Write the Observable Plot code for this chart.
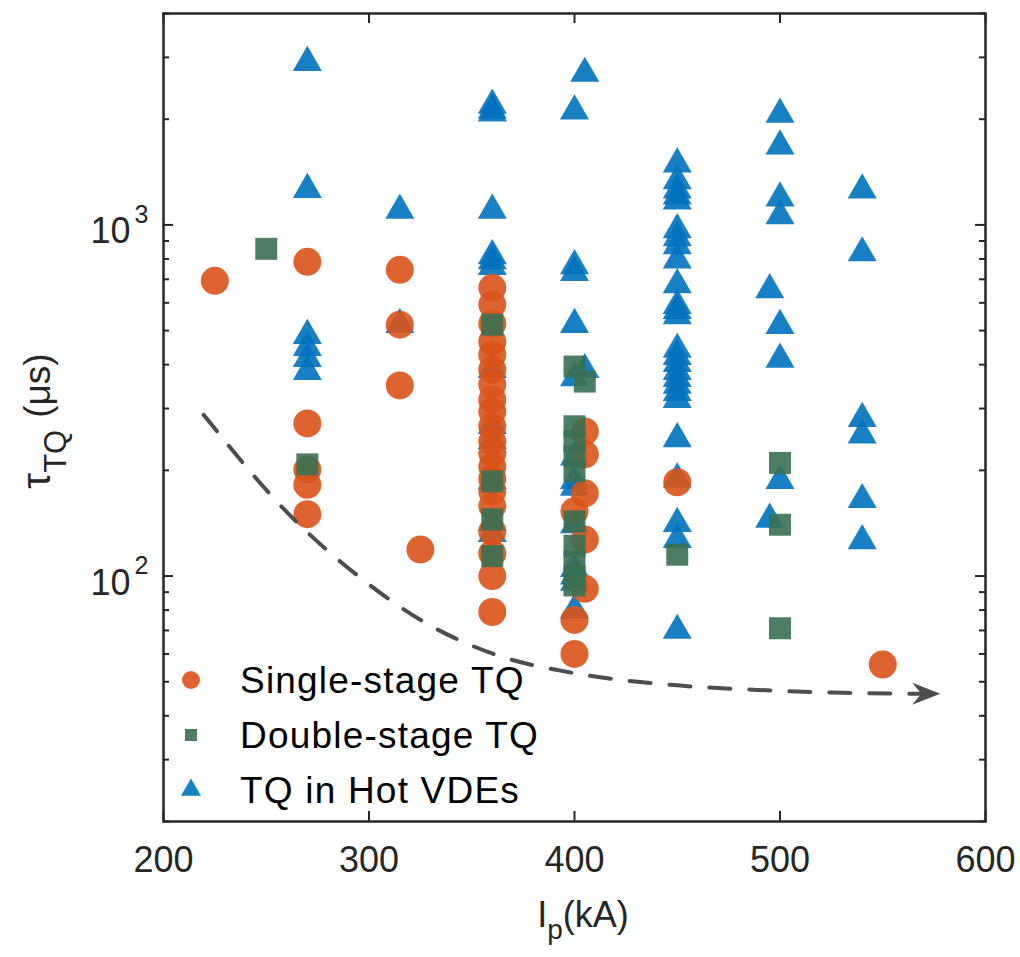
<!DOCTYPE html>
<html>
<head>
<meta charset="utf-8">
<script src="https://cdn.jsdelivr.net/npm/d3@7"></script>
<script src="https://cdn.jsdelivr.net/npm/@observablehq/plot@0.6"></script>
<style>
html, body { margin: 0; padding: 0; background: #fff; overflow: hidden; }
</style>
</head>
<body>
<div id="chart"></div>
<script>
// ---- data: [Ip (kA), tau_TQ (us)] ----
const singleStage = [
  [225, 693],
  [270, 785], [270, 272], [270, 201], [270, 182], [270, 150],
  [315, 745], [315, 520], [315, 349],
  [325, 119],
  [360, 662], [360, 593], [360, 523], [360, 465], [360, 427], [360, 387], [360, 351],
  [360, 318], [360, 294], [360, 267], [360, 242], [360, 224], [360, 205], [360, 189],
  [360, 174], [360, 158], [360, 134], [360, 116], [360, 100], [360, 79],
  [400, 153], [400, 75], [400, 60],
  [405, 258], [405, 222], [405, 172], [405, 127], [405, 92],
  [450, 185],
  [550, 56]
];
const doubleStage = [
  [250, 855],
  [270, 208],
  [360, 520], [360, 186], [360, 145], [360, 114],
  [400, 395], [400, 267], [400, 242], [400, 219], [400, 199], [400, 143], [400, 122],
  [400, 110], [400, 100], [400, 94],
  [405, 358],
  [450, 115],
  [500, 210], [500, 140], [500, 71]
];
const hotVDE = [
  [270, 2900], [270, 1260], [270, 484], [270, 447], [270, 416], [270, 382],
  [315, 1100], [315, 520],
  [360, 2190], [360, 2120], [360, 2080], [360, 1100], [360, 817], [360, 790], [360, 761],
  [360, 387], [360, 268], [360, 243], [360, 187], [360, 142], [360, 132],
  [400, 2110], [400, 765], [400, 731], [400, 520], [400, 367], [400, 218], [400, 187],
  [400, 179], [400, 140], [400, 105], [400, 100], [400, 96], [400, 80],
  [405, 2700], [405, 387],
  [450, 1490], [450, 1334], [450, 1257], [450, 1208], [450, 1169], [450, 968], [450, 919],
  [450, 872], [450, 794], [450, 675], [450, 589], [450, 570], [450, 551], [450, 442],
  [450, 422], [450, 403], [450, 382], [450, 365], [450, 349], [450, 333], [450, 318],
  [450, 246], [450, 189], [450, 141], [450, 127], [450, 70],
  [495, 653], [495, 145],
  [500, 2065], [500, 1676], [500, 1193], [500, 1061], [500, 517], [500, 414], [500, 187],
  [540, 1256], [540, 832], [540, 281], [540, 252], [540, 165], [540, 126]
];
// dashed trend guide (ends at the arrow tip)
const trendCurve = [
  [219.5, 288], [263, 146], [296, 98.7], [328.5, 73], [360.6, 60], [401.5, 52.7],
  [446.7, 49], [489, 47.4], [531, 46.5], [578, 46.2]
];
const xTicks = [200, 300, 400, 500, 600];
const yMajorTicks = [100, 1000];
const yMinorTicks = [20, 30, 40, 50, 60, 70, 80, 90, 200, 300, 400, 500, 600, 700, 800, 900, 2000, 3000, 4000];
const legendLabels = ["Single-stage TQ", "Double-stage TQ", "TQ in Hot VDEs"];

// ---- styles ----
const W = 1020, H = 957;
const mL = 163, mR = 35, mT = 13, mB = 136;
const plotW = W - mL - mR, plotH = H - mT - mB;
const ORANGE = "#D95319", GREEN = "#3A7052", BLUE = "#0072BD", AXIS = "#262626", DASH = "#4D4D4D";
const FONT = "'Liberation Sans', Arial, Helvetica, sans-serif";

const toObj = arr => arr.map(([ip, tau]) => ({ip, tau}));
const arrowHead = {
  draw(ctx) {
    ctx.moveTo(0, 0);
    ctx.lineTo(-28, -11);
    ctx.lineTo(-19, 0);
    ctx.lineTo(-28, 11);
    ctx.closePath();
  }
};
const trend = toObj(trendCurve);

const chart = Plot.plot({
  width: W, height: H,
  marginLeft: mL, marginRight: mR, marginTop: mT, marginBottom: mB,
  style: {fontFamily: FONT, background: "#fff"},
  x: {type: "linear", domain: [200, 600], axis: null},
  y: {type: "log", domain: [20, 4000], axis: null},
  marks: [
    // inward ticks on all four sides
    Plot.tickX(xTicks, {x: d => d, insetTop: plotH - 10, stroke: AXIS, strokeWidth: 2}),
    Plot.tickX(xTicks, {x: d => d, insetBottom: plotH - 10, stroke: AXIS, strokeWidth: 2}),
    Plot.tickY(yMajorTicks, {y: d => d, insetRight: plotW - 10, stroke: AXIS, strokeWidth: 2}),
    Plot.tickY(yMajorTicks, {y: d => d, insetLeft: plotW - 10, stroke: AXIS, strokeWidth: 2}),
    Plot.tickY(yMinorTicks, {y: d => d, insetRight: plotW - 6, stroke: AXIS, strokeWidth: 2}),
    Plot.tickY(yMinorTicks, {y: d => d, insetLeft: plotW - 6, stroke: AXIS, strokeWidth: 2}),
    // data
    Plot.dot(toObj(hotVDE), {x: "ip", y: "tau", symbol: "triangle", r: 10.8, fill: BLUE, fillOpacity: 0.9}),
    Plot.dot(toObj(singleStage), {x: "ip", y: "tau", symbol: "circle", r: 14, fill: ORANGE, fillOpacity: 0.9}),
    Plot.dot(toObj(doubleStage), {x: "ip", y: "tau", symbol: "square", r: 12.4, fill: GREEN, fillOpacity: 0.9}),
    // trend arrow
    Plot.line(trend, {x: "ip", y: "tau", curve: "monotone-x", stroke: DASH, strokeWidth: 4, strokeDasharray: "21,19"}),
    Plot.dot([trend[trend.length - 1]], {x: "ip", y: "tau", symbol: arrowHead, r: 1, fill: DASH}),
    Plot.frame({stroke: AXIS, strokeWidth: 2.5}),
    // tick labels
    Plot.text(xTicks, {x: d => d, frameAnchor: "bottom", dy: 39, lineAnchor: "middle", text: d => String(d), fontSize: 36, fill: AXIS}),
    Plot.text(yMajorTicks, {y: d => d, frameAnchor: "left", dx: -33, dy: 7, lineAnchor: "middle", textAnchor: "end", text: () => "10", fontSize: 36, fill: AXIS}),
    Plot.text(yMajorTicks, {y: d => d, frameAnchor: "left", dx: -15, dy: -10, lineAnchor: "middle", textAnchor: "end", text: d => String(Math.round(Math.log10(d))), fontSize: 25, fill: AXIS})
  ]
});
document.getElementById("chart").appendChild(chart);

// ---- axis titles and legend ----
const svg = d3.select(chart);

const xl = svg.append("text")
  .attr("x", 583).attr("y", 927)
  .attr("text-anchor", "middle")
  .attr("font-family", FONT).attr("font-size", 36).attr("fill", AXIS);
xl.append("tspan").text("I");
xl.append("tspan").attr("dy", 12).attr("font-size", 28).text("p");
xl.append("tspan").attr("dy", -12).text("(kA)");

const yl = svg.append("text")
  .attr("transform", "translate(50,421) rotate(-90)")
  .attr("text-anchor", "middle")
  .attr("font-family", FONT).attr("font-size", 37).attr("fill", AXIS);
yl.append("tspan").attr("font-size", 40).text("τ");
yl.append("tspan").attr("dy", 16).attr("font-size", 31).text("TQ");
yl.append("tspan").attr("dy", -16).attr("dx", 12).text("(μs)");

const legendSymbols = [
  {type: d3.symbolCircle, size: Math.PI * 81, color: ORANGE},
  {type: d3.symbolSquare, size: 144, color: GREEN},
  {type: d3.symbolTriangle, size: 173, color: BLUE}
];
const lg = svg.append("g").attr("font-family", FONT).attr("text-anchor", "start");
legendLabels.forEach((label, i) => {
  const cy = 680 + 55 * i;
  const s = legendSymbols[i];
  lg.append("path")
    .attr("transform", `translate(191,${cy})`)
    .attr("d", d3.symbol(s.type, s.size)())
    .attr("fill", s.color).attr("fill-opacity", 0.9);
  lg.append("text")
    .attr("x", 240).attr("y", cy + 13)
    .attr("text-anchor", "start")
    .attr("font-size", 37).attr("letter-spacing", 1.2)
    .attr("fill", "#000")
    .text(label);
});
</script>
</body>
</html>
